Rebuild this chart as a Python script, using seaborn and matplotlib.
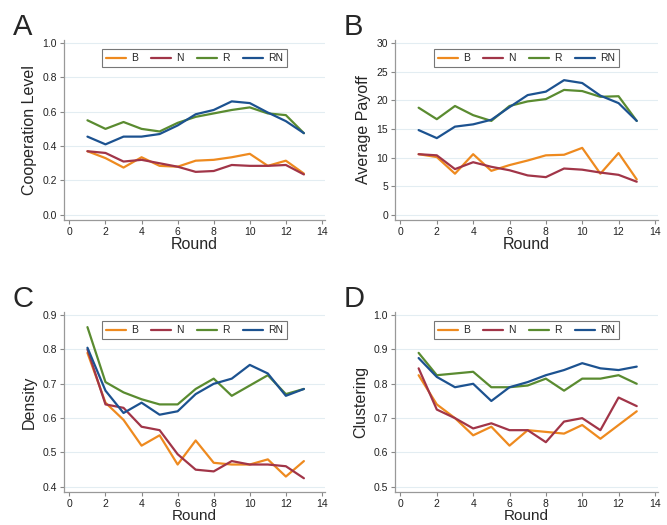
import numpy as np
import pandas as pd
import matplotlib
matplotlib.use("Agg")
import matplotlib.pyplot as plt
import seaborn as sns

sns.set_theme(style="white")
plt.rcParams["font.family"] = ["Liberation Sans", "DejaVu Sans"]

rounds = list(range(1, 14))
groups = ["B", "N", "R", "RN"]
COLORS = {"B": "#EE8A1F", "N": "#A13548", "R": "#5A8B30", "RN": "#1C5290"}

# Cooperation level
coop_B = [0.37, 0.33, 0.275, 0.335, 0.285, 0.28, 0.315, 0.32, 0.335, 0.355, 0.285, 0.315, 0.24]
coop_N = [0.37, 0.36, 0.31, 0.32, 0.30, 0.28, 0.25, 0.255, 0.29, 0.285, 0.285, 0.29, 0.235]
coop_R = [0.55, 0.50, 0.54, 0.50, 0.485, 0.535, 0.57, 0.59, 0.61, 0.625, 0.59, 0.58, 0.475]
coop_RN = [0.455, 0.41, 0.455, 0.455, 0.47, 0.52, 0.585, 0.61, 0.66, 0.65, 0.595, 0.545, 0.475]

# Average payoff
pay_B = [10.6, 10.1, 7.2, 10.6, 7.7, 8.7, 9.5, 10.4, 10.5, 11.7, 7.2, 10.8, 6.2]
pay_N = [10.6, 10.4, 8.0, 9.2, 8.4, 7.8, 6.9, 6.6, 8.1, 7.9, 7.4, 7.0, 5.8]
pay_R = [18.7, 16.7, 19.0, 17.4, 16.4, 19.0, 19.8, 20.2, 21.8, 21.6, 20.6, 20.7, 16.4]
pay_RN = [14.8, 13.4, 15.4, 15.8, 16.6, 18.8, 20.9, 21.5, 23.5, 23.0, 20.8, 19.5, 16.4]

# Density
dens_B = [0.79, 0.645, 0.595, 0.52, 0.55, 0.465, 0.535, 0.47, 0.465, 0.465, 0.48, 0.43, 0.475]
dens_N = [0.80, 0.64, 0.63, 0.575, 0.565, 0.495, 0.45, 0.445, 0.475, 0.465, 0.465, 0.46, 0.425]
dens_R = [0.865, 0.705, 0.675, 0.655, 0.64, 0.64, 0.685, 0.715, 0.665, 0.695, 0.725, 0.67, 0.685]
dens_RN = [0.805, 0.68, 0.615, 0.645, 0.61, 0.62, 0.67, 0.70, 0.715, 0.755, 0.73, 0.665, 0.685]

# Clustering
clus_B = [0.825, 0.74, 0.70, 0.65, 0.675, 0.62, 0.665, 0.66, 0.655, 0.68, 0.64, 0.68, 0.72]
clus_N = [0.845, 0.725, 0.70, 0.67, 0.685, 0.665, 0.665, 0.63, 0.69, 0.70, 0.665, 0.76, 0.735]
clus_R = [0.89, 0.825, 0.83, 0.835, 0.79, 0.79, 0.795, 0.815, 0.78, 0.815, 0.815, 0.825, 0.80]
clus_RN = [0.875, 0.82, 0.79, 0.80, 0.75, 0.79, 0.805, 0.825, 0.84, 0.86, 0.845, 0.84, 0.85]


def long_df(series):
    rows = []
    for g, vals in zip(groups, series):
        for r, v in zip(rounds, vals):
            rows.append({"Round": r, "value": v, "group": g})
    return pd.DataFrame(rows)


W, H = 667, 525
fig = plt.figure(figsize=(W / 100, H / 100), dpi=100)

# (letter, series, ylabel, yticks, ylim, tickfmt, axes rect in px: left, top, right, bottom)
panels = [
    ("A", [coop_B, coop_N, coop_R, coop_RN], "Cooperation Level",
     np.arange(0, 1.01, 0.2), (-0.03, 1.017), "{:.1f}", (64, 40, 325, 220)),
    ("B", [pay_B, pay_N, pay_R, pay_RN], "Average Payoff",
     np.arange(0, 31, 5), (-0.87, 30.5), "{:.0f}", (395, 40, 658, 220)),
    ("C", [dens_B, dens_N, dens_R, dens_RN], "Density",
     np.arange(0.4, 0.91, 0.1), (0.385, 0.909), "{:.1f}", (64, 312, 325, 492)),
    ("D", [clus_B, clus_N, clus_R, clus_RN], "Clustering",
     np.arange(0.5, 1.01, 0.1), (0.485, 1.009), "{:.1f}", (395, 312, 658, 492)),
]

for letter, series, ylabel, yticks, ylim, fmt, (l, t, r, b) in panels:
    ax = fig.add_axes([l / W, 1 - b / H, (r - l) / W, (b - t) / H])
    df = long_df(series)
    sns.lineplot(data=df, x="Round", y="value", hue="group", hue_order=groups,
                 palette=COLORS, linewidth=1.6, ax=ax, legend=False)

    ax.set_xlim(-0.3, 14.17)
    ax.set_ylim(*ylim)
    ax.set_xticks(range(0, 15, 2))
    ax.set_yticks(yticks)
    ax.set_yticklabels([fmt.format(v) for v in yticks])
    ax.tick_params(axis="both", labelsize=7.5, length=3, width=0.8,
                   color="#888888", labelcolor="#222222", pad=2, direction="out")
    ax.tick_params(axis="both", which="both", bottom=True, left=True)
    for yv in yticks:
        ax.axhline(yv, color="#E3EDF2", linewidth=0.8, zorder=0)
    ax.grid(False)
    for side in ["top", "right"]:
        ax.spines[side].set_visible(False)
    for side in ["left", "bottom"]:
        ax.spines[side].set_color("#999999")
        ax.spines[side].set_linewidth(0.9)
    # bottom row sits close to the figure edge
    ax.set_xlabel("Round", fontsize=11 if b > 300 else 11.5, labelpad=0)
    ax.set_ylabel(ylabel, fontsize=11.5, labelpad=4)

    handles = [plt.Line2D([], [], color=COLORS[g], linewidth=1.6) for g in groups]
    leg = ax.legend(handles, groups, loc="upper center", bbox_to_anchor=(0.5, 0.95),
                    ncol=4, fontsize=7.5, frameon=True, fancybox=False,
                    handlelength=1.9, columnspacing=1.3, handletextpad=0.5,
                    borderpad=0.4, borderaxespad=0, edgecolor="#555555")
    leg.get_frame().set_linewidth(0.8)

    fig.text((l - 51) / W, 1 - (t - 5) / H, letter, fontsize=21,
             ha="left", va="baseline")

fig.savefig("out.png", dpi=100)
plt.close(fig)
